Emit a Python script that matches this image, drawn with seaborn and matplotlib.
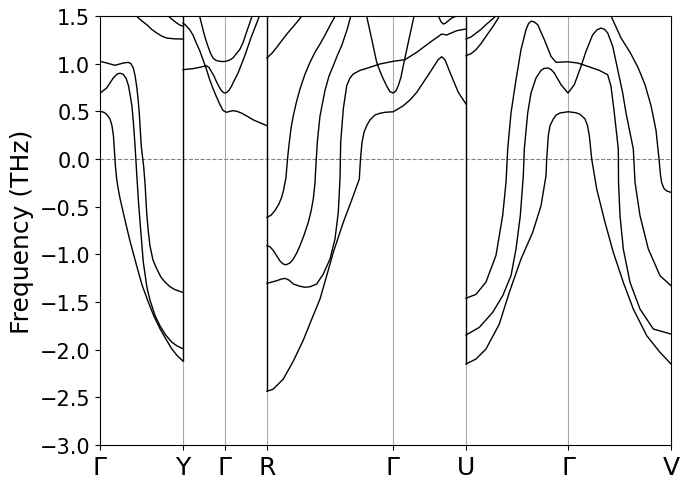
import matplotlib
matplotlib.use("Agg")
import matplotlib.pyplot as plt
import seaborn as sns

# high-symmetry points along the path (q-distance)
tick_pos = [0.0, 0.83, 1.25, 1.67, 2.93, 3.66, 4.68, 5.71]
tick_labels = ["Γ", "Y", "Γ", "R", "Γ", "U", "Γ", "V"]
breaks = [0.83, 1.67, 3.66]

# --- segment Γ-Y ---
a1_x = [0, 0.04, 0.07, 0.10, 0.12, 0.135, 0.145, 0.155, 0.165, 0.18, 0.20, 0.25, 0.30, 0.367, 0.42, 0.483,
        0.54, 0.60, 0.66, 0.717, 0.77, 0.83]
a1_f = [0.50, 0.49, 0.465, 0.42, 0.35, 0.24, 0.08, -0.08, -0.19, -0.30, -0.41, -0.64, -0.86, -1.12, -1.32, -1.50,
        -1.65, -1.78, -1.89, -1.99, -2.06, -2.12]
a2_x = [0, 0.067, 0.133, 0.17, 0.20, 0.23, 0.26, 0.285, 0.305, 0.32, 0.333, 0.35, 0.37, 0.385, 0.40, 0.433,
        0.47, 0.50, 0.55, 0.60, 0.66, 0.717, 0.77, 0.83]
a2_f = [0.69, 0.745, 0.85, 0.89, 0.90, 0.89, 0.85, 0.77, 0.65, 0.55, 0.40, 0.15, -0.20, -0.45, -0.65, -1.08,
        -1.35, -1.48, -1.64, -1.75, -1.85, -1.92, -1.96, -1.99]
a3_x = [0, 0.067, 0.15, 0.233, 0.283, 0.31, 0.333, 0.35, 0.367, 0.38, 0.393, 0.413, 0.437, 0.45, 0.467,
        0.483, 0.50, 0.53, 0.567, 0.61, 0.65, 0.70, 0.75, 0.83]
a3_f = [1.025, 1.007, 0.983, 1.007, 1.014, 1.00, 0.955, 0.88, 0.762, 0.64, 0.483, 0.133, -0.08, -0.25, -0.56,
        -0.76, -0.91, -1.06, -1.15, -1.24, -1.29, -1.34, -1.37, -1.40]
a4_x = [0.35, 0.367, 0.417, 0.467, 0.517, 0.567, 0.617, 0.667, 0.75, 0.83]
a4_f = [1.53, 1.497, 1.45, 1.41, 1.36, 1.322, 1.29, 1.269, 1.26, 1.259]
a5_x = [0.66, 0.683, 0.727, 0.767, 0.80, 0.83]
a5_f = [1.53, 1.50, 1.46, 1.427, 1.405, 1.392]

# --- segment Y-Γ-R ---
b1_x = [0.83, 0.86, 0.897, 0.93, 0.963, 1.0, 1.03, 1.065, 1.097, 1.13, 1.163, 1.20, 1.23, 1.263, 1.30,
        1.33, 1.37, 1.413, 1.47, 1.53, 1.60, 1.67]
b1_f = [1.427, 1.40, 1.357, 1.30, 1.217, 1.13, 1.042, 0.94, 0.832, 0.74, 0.657, 0.57, 0.51, 0.49, 0.50,
        0.507, 0.50, 0.483, 0.45, 0.412, 0.38, 0.35]
b2_x = [0.83, 0.93, 1.013, 1.063, 1.09, 1.113, 1.14, 1.163, 1.19, 1.213, 1.235, 1.25, 1.27, 1.29, 1.313,
        1.35, 1.38, 1.447, 1.513, 1.58, 1.60]
b2_f = [0.937, 0.948, 0.965, 0.979, 0.96, 0.92, 0.87, 0.815, 0.76, 0.72, 0.697, 0.692, 0.70, 0.72, 0.76,
        0.84, 0.90, 1.08, 1.28, 1.46, 1.53]
b3_x = [0.99, 0.997, 1.03, 1.055, 1.08, 1.105, 1.13, 1.16, 1.197, 1.23, 1.263, 1.30, 1.33, 1.36, 1.397,
        1.43, 1.463, 1.52, 1.53]
b3_f = [1.53, 1.497, 1.357, 1.26, 1.182, 1.11, 1.06, 1.035, 1.025, 1.022, 1.025, 1.04, 1.06, 1.10, 1.147,
        1.22, 1.322, 1.497, 1.53]

# --- segment R-Γ-U ---
c1_x = [1.67, 1.71, 1.75, 1.79, 1.817, 1.835, 1.85, 1.86, 1.867, 1.88, 1.893, 1.91, 1.933, 1.965, 2.0,
        2.05, 2.1, 2.15, 2.2, 2.25, 2.3, 2.35, 2.36]
c1_f = [-0.612, -0.59, -0.54, -0.47, -0.40, -0.33, -0.245, -0.2, -0.1, 0.05, 0.175, 0.32, 0.454, 0.60, 0.734,
        0.89, 1.014, 1.12, 1.206, 1.30, 1.40, 1.497, 1.53]
c2_x = [1.67, 1.70, 1.733, 1.77, 1.80, 1.83, 1.86, 1.90, 1.933, 1.97, 2.0, 2.04, 2.083, 2.11, 2.133, 2.15,
        2.16, 2.175, 2.20, 2.25, 2.29, 2.333, 2.375, 2.417, 2.473, 2.507, 2.52]
c2_f = [-0.91, -0.92, -0.96, -1.02, -1.07, -1.10, -1.11, -1.09, -1.05, -0.98, -0.909, -0.80, -0.664, -0.55,
        -0.42, -0.25, -0.05, 0.2, 0.45, 0.72, 0.87, 0.979, 1.09, 1.189, 1.364, 1.497, 1.53]
c3_x = [1.67, 1.72, 1.767, 1.81, 1.85, 1.89, 1.933, 2.0, 2.05, 2.1, 2.167, 2.233, 2.30, 2.35, 2.383, 2.40,
        2.407, 2.433, 2.467, 2.50, 2.533, 2.60, 2.667, 2.80, 2.933, 3.05, 3.167, 3.30, 3.417, 3.467, 3.52,
        3.567, 3.66]
c3_f = [-1.304, -1.29, -1.277, -1.26, -1.252, -1.27, -1.311, -1.335, -1.345, -1.340, -1.311, -1.206, -1.049,
        -0.839, -0.559, -0.21, 0.175, 0.524, 0.769, 0.85, 0.892, 0.93, 0.951, 0.997, 1.025, 1.042, 1.119, 1.224,
        1.311, 1.301, 1.325, 1.346, 1.364]
c4_x = [1.67, 1.733, 1.833, 1.933, 2.033, 2.133, 2.20, 2.267, 2.333, 2.433, 2.533, 2.593, 2.605, 2.62, 2.64,
        2.667, 2.70, 2.75, 2.80, 2.85, 2.933, 3.033, 3.10, 3.167, 3.30, 3.38, 3.417, 3.45, 3.50, 3.583, 3.66]
c4_f = [-2.437, -2.413, -2.308, -2.12, -1.90, -1.64, -1.469, -1.224, -0.979, -0.664, -0.385, -0.21, 0.0,
        0.175, 0.28, 0.35, 0.41, 0.462, 0.48, 0.49, 0.496, 0.559, 0.62, 0.699, 0.909, 1.04, 1.073, 1.04,
        0.909, 0.699, 0.577]
c5_x = [2.66, 2.667, 2.717, 2.767, 2.80, 2.833, 2.87, 2.90, 2.933, 2.96, 2.983, 3.01, 3.033, 3.083, 3.14, 3.145]
c5_f = [1.53, 1.497, 1.259, 1.014, 0.92, 0.839, 0.76, 0.706, 0.692, 0.715, 0.769, 0.86, 0.979, 1.224, 1.497, 1.53]
c6_x = [1.67, 1.72, 1.767, 1.82, 1.883, 1.95, 2.017, 2.03]
c6_f = [1.06, 1.11, 1.171, 1.245, 1.329, 1.41, 1.497, 1.53]
c7_x = [3.36, 3.383, 3.41, 3.433, 3.455, 3.483, 3.52, 3.567, 3.59]
c7_f = [1.56, 1.50, 1.44, 1.416, 1.425, 1.45, 1.48, 1.50, 1.52]

# --- segment U-Γ-V ---
d1_x = [3.66, 3.76, 3.86, 3.993, 4.093, 4.21, 4.327, 4.41, 4.46, 4.467, 4.483, 4.50, 4.533, 4.56, 4.60,
        4.683, 4.76, 4.80, 4.85, 4.875, 4.893, 4.917, 4.967, 5.05, 5.133, 5.233, 5.333, 5.467, 5.60, 5.71]
d1_f = [-2.15, -2.098, -1.993, -1.731, -1.399, -1.049, -0.769, -0.49, -0.175, 0.0, 0.245, 0.35, 0.42, 0.46,
        0.483, 0.496, 0.485, 0.47, 0.42, 0.35, 0.245, 0.0, -0.315, -0.664, -0.979, -1.294, -1.574, -1.853,
        -2.028, -2.15]
d2_x = [3.66, 3.793, 3.927, 4.027, 4.11, 4.16, 4.203, 4.233, 4.243, 4.277, 4.31, 4.36, 4.41, 4.44, 4.477,
        4.51, 4.543, 4.61, 4.68, 4.743, 4.81, 4.86, 4.927, 4.97, 5.01, 5.045, 5.077, 5.127, 5.177, 5.227,
        5.26, 5.333, 5.35, 5.40, 5.483, 5.60, 5.71]
d2_f = [-1.846, -1.766, -1.608, -1.434, -1.224, -0.944, -0.595, -0.175, 0.105, 0.483, 0.692, 0.85, 0.93,
        0.95, 0.955, 0.94, 0.902, 0.78, 0.692, 0.78, 0.972, 1.13, 1.304, 1.355, 1.374, 1.36, 1.322, 1.182,
        0.937, 0.692, 0.483, 0.105, -0.245, -0.595, -0.944, -1.224, -1.329]
d3_x = [3.66, 3.76, 3.86, 3.96, 4.027, 4.06, 4.077, 4.11, 4.16, 4.21, 4.26, 4.285, 4.31, 4.34, 4.377,
        4.443, 4.51, 4.56, 4.677, 4.777, 4.877, 4.993, 5.077, 5.11, 5.143, 5.183, 5.185, 5.20, 5.233,
        5.30, 5.40, 5.533, 5.71]
d3_f = [-1.46, -1.42, -1.29, -1.01, -0.59, -0.245, 0.105, 0.483, 0.832, 1.147, 1.357, 1.42, 1.445, 1.44,
        1.409, 1.252, 1.077, 1.014, 1.02, 1.007, 0.972, 0.93, 0.884, 0.762, 0.483, 0.105, -0.245, -0.595,
        -0.944, -1.294, -1.574, -1.783, -1.836]
d4_x = [3.66, 3.71, 3.76, 3.81, 3.86, 3.93, 3.993, 4.01]
d4_f = [1.084, 1.105, 1.147, 1.21, 1.287, 1.39, 1.497, 1.53]
d5_x = [3.66, 3.71, 3.76, 3.81, 3.86, 3.96, 3.975]
d5_f = [1.259, 1.28, 1.32, 1.36, 1.41, 1.50, 1.53]
d6_x = [5.10, 5.11, 5.21, 5.30, 5.38, 5.45, 5.51, 5.56, 5.59, 5.605, 5.617, 5.64, 5.667, 5.71]
d6_f = [1.53, 1.50, 1.27, 1.12, 0.96, 0.78, 0.56, 0.30, 0.0, -0.17, -0.25, -0.31, -0.335, -0.35]

bands = [(a1_x, a1_f), (a2_x, a2_f), (a3_x, a3_f), (a4_x, a4_f), (a5_x, a5_f),
         (b1_x, b1_f), (b2_x, b2_f), (b3_x, b3_f),
         (c1_x, c1_f), (c2_x, c2_f), (c3_x, c3_f), (c4_x, c4_f), (c5_x, c5_f), (c6_x, c6_f), (c7_x, c7_f),
         (d1_x, d1_f), (d2_x, d2_f), (d3_x, d3_f), (d4_x, d4_f), (d5_x, d5_f), (d6_x, d6_f)]

ymin, ymax = -3.0, 1.5

fig, ax = plt.subplots(figsize=(6.89, 4.89), dpi=100)
fig.subplots_adjust(left=0.1451, right=0.9739, top=0.9652, bottom=0.0879)

# grid lines at the high-symmetry points
for p in tick_pos[1:-1]:
    ax.axvline(p, color="#aaaaaa", lw=0.8, zorder=0)
ax.axhline(0, color="gray", lw=0.8, ls="--", zorder=1)

for bx, bf in bands:
    sns.lineplot(x=bx, y=bf, sort=False, estimator=None, color="black", lw=1.0, ax=ax)

# jumps where the path is discontinuous
for b in breaks:
    ends = [f[i] for x, f in bands for i in (0, -1) if abs(x[i] - b) < 1e-6]
    ax.vlines(b, min(ends), ymax, color="black", lw=1.0)

ax.set_xlim(tick_pos[0], tick_pos[-1])
ax.set_ylim(ymin, ymax)
ax.set_xticks(tick_pos)
ax.set_xticklabels(tick_labels, fontsize=18)
ax.set_yticks([ymin + 0.5 * i for i in range(10)])
ax.tick_params(axis="y", labelsize=15)
ax.set_ylabel("Frequency (THz)", fontsize=18)

plt.savefig("out.png", dpi=100)
